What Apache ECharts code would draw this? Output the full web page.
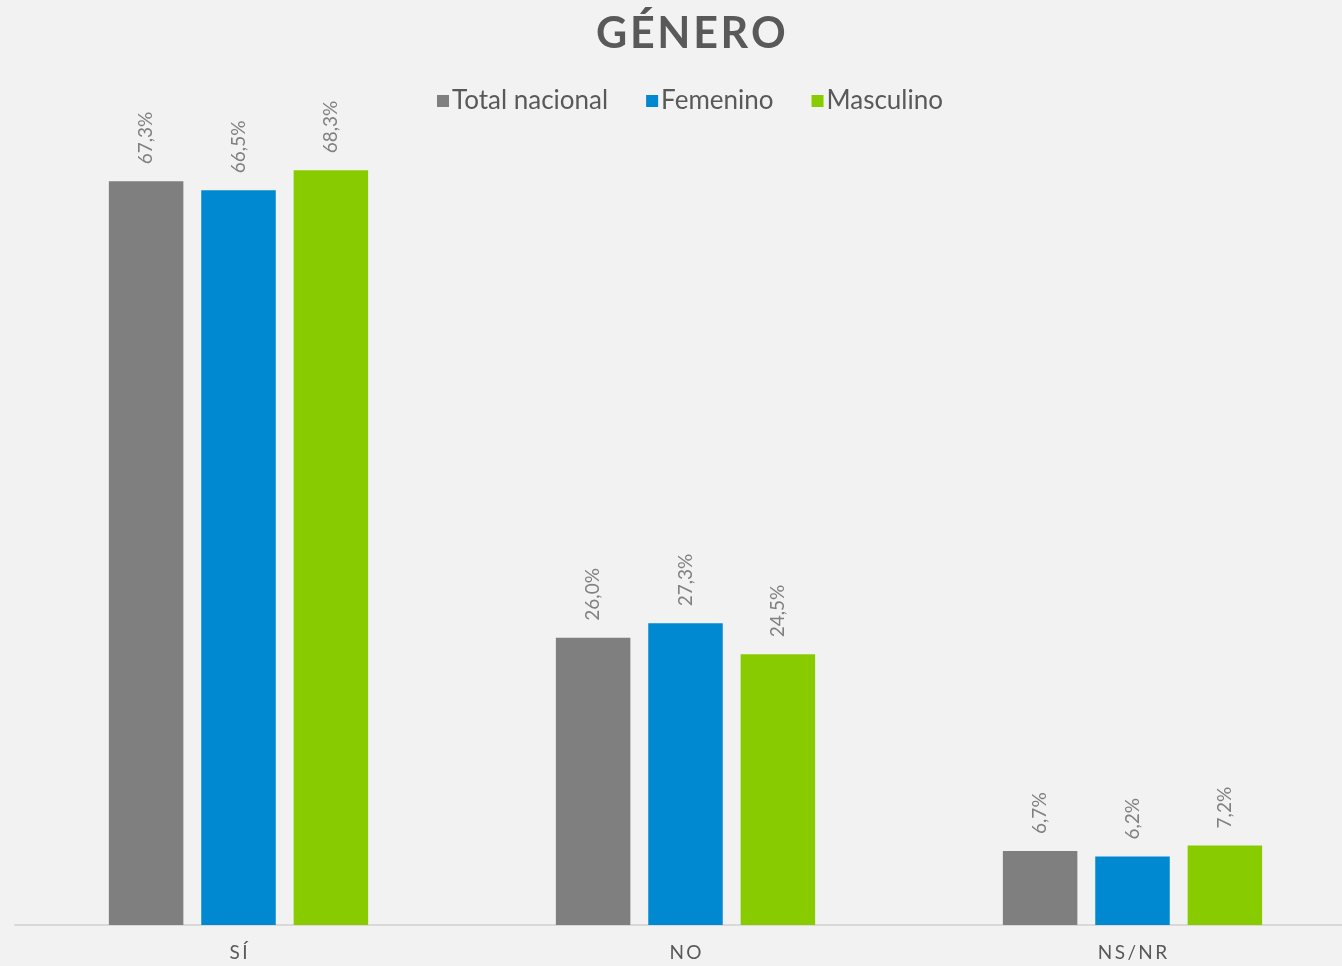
<!DOCTYPE html>
<html>
<head>
<meta charset="utf-8">
<script src="https://cdn.jsdelivr.net/npm/echarts@6/dist/echarts.min.js"></script>
<style>
  html, body { margin: 0; padding: 0; background: #f2f2f2; overflow: hidden; }
  #chart { width: 1356px; height: 966px; }
</style>
</head>
<body>
<div id="chart"></div>
<script>
// datos
const categories = ['SÍ', 'NO', 'NS/NR'];
const seriesNames = ['Total nacional', 'Femenino', 'Masculino'];
const totalNacional = [67.3, 26.0, 6.7];
const femenino = [66.5, 27.3, 6.2];
const masculino = [68.3, 24.5, 7.2];
const colors = ['#7f7f7f', '#0088d1', '#88cc00'];

const fontFamily = 'Lato, "Noto Sans", sans-serif';

function fmt(p) {
    return p.value.toFixed(1).replace('.', ',') + '%';
}

function spaced(s) {
    return s.split('').join('\u2009');
}

function makeSeries(name, data, color) {
    return {
        name: name,
        type: 'bar',
        data: data,
        barGap: '24%',
        barCategoryGap: '42%',
        itemStyle: {color: color},
        label: {
            show: true,
            position: 'top',
            rotate: 90,
            align: 'left',
            verticalAlign: 'middle',
            distance: 17,
            color: '#808080',
            fontSize: 19,
            fontFamily: fontFamily,
            formatter: fmt
        }
    };
}

// el div es un poco mas ancho que la ventana para que el grid llegue al borde
const chart = echarts.init(document.getElementById('chart'));
const option = {
    backgroundColor: '#f2f2f2',
    animation: false,
    title: {
        text: 'GÉNERO'.split('').join('\u200A'),
        left: 591,
        top: 8,
        textStyle: {
            color: '#595959',
            fontSize: 43,
            fontWeight: 'bold',
            fontFamily: fontFamily
        }
    },
    legend: {
        top: 83,
        left: 432,
        itemWidth: 12,
        itemHeight: 12,
        itemGap: 38,
        icon: 'rect',
        textStyle: {
            color: '#595959',
            fontSize: 26,
            fontFamily: fontFamily,
            padding: [0, 0, 0, -2]
        },
        data: seriesNames
    },
    grid: {
        left: 15,
        right: 0,
        top: 41,
        bottom: 41
    },
    xAxis: {
        type: 'category',
        data: categories,
        axisLine: {lineStyle: {color: '#d9d9d9', width: 2}},
        axisTick: {show: false},
        axisLabel: {
            color: '#595959',
            fontSize: 19,
            fontFamily: fontFamily,
            margin: 18,
            formatter: spaced
        }
    },
    yAxis: {
        type: 'value',
        min: 0,
        max: 80,
        show: false,
        splitLine: {show: false}
    },
    series: [
        makeSeries(seriesNames[0], totalNacional, colors[0]),
        makeSeries(seriesNames[1], femenino, colors[1]),
        makeSeries(seriesNames[2], masculino, colors[2])
    ]
};
chart.setOption(option);
</script>
</body>
</html>
